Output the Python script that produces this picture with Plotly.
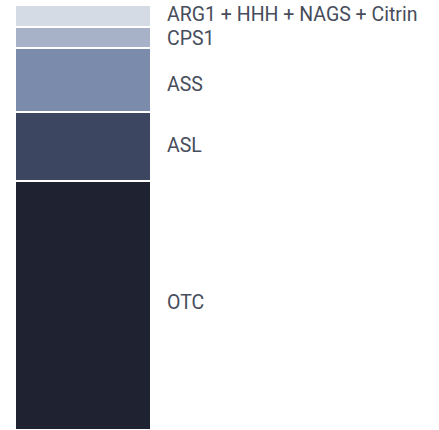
import plotly.graph_objects as go

categories = ["OTC", "ASL", "ASS", "CPS1", "ARG1 + HHH + NAGS + Citrin"]
values = [58.6, 16.2, 15.0, 5.0, 5.3]
colors = ["#1f2230", "#3c4660", "#7a8bab", "#a7b2c9", "#d5dbe5"]
label_shift = [3, 1, -4, -1, 1]

fig = go.Figure()
cum = 0
for cat, v, c, s in zip(categories, values, colors, label_shift):
    fig.add_trace(go.Bar(x=[0], y=[v], width=[1], marker=dict(color=c, line=dict(color="white", width=2)),
                         name=cat, showlegend=False, hoverinfo="skip"))
    fig.add_annotation(x=0.5 + 14/136, y=cum + v / 2, yshift=s, text=cat, showarrow=False, xanchor="left",
                       yanchor="middle", font=dict(family="Roboto", size=19.5, color="#474d5c"))
    cum += v

fig.update_layout(
    barmode="stack", width=439, height=430,
    margin=dict(l=15, r=0, t=5, b=0),
    paper_bgcolor="white", plot_bgcolor="white",
    xaxis=dict(range=[-0.5, 2.626], visible=False),
    yaxis=dict(range=[0, 100], visible=False),
)
fig.write_html("out.html", config={"displayModeBar": False},
               post_script="document.body.style.margin='0';")
